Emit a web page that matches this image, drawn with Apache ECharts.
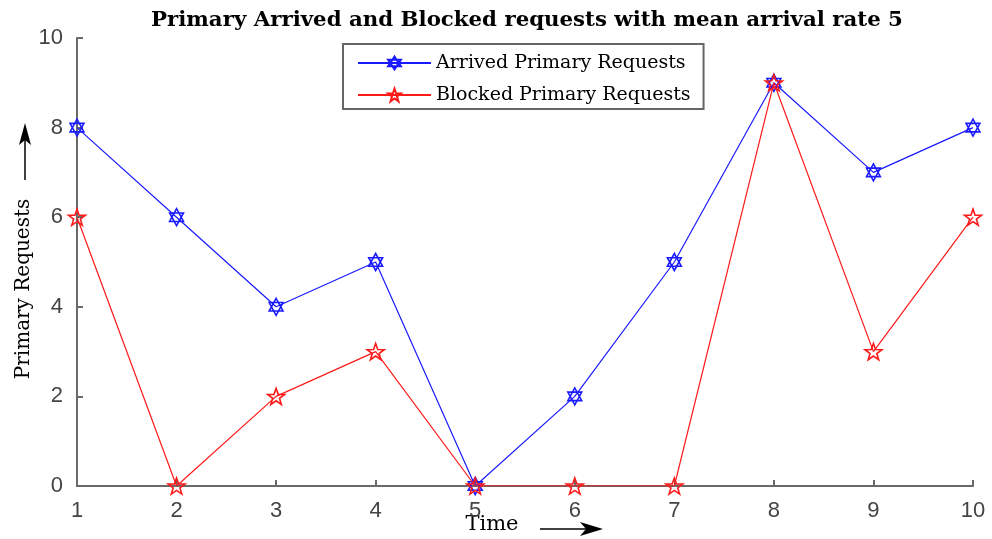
<!DOCTYPE html>
<html>
<head>
<meta charset="utf-8">
<script src="https://cdn.jsdelivr.net/npm/echarts@6/dist/echarts.min.js"></script>
<style>
  html, body { margin: 0; padding: 0; background: #fff; }
  #chart { width: 992px; height: 539px; }
</style>
</head>
<body>
<div id="chart"></div>
<script>
// Time steps and request counts per step
const timeSteps = [1, 2, 3, 4, 5, 6, 7, 8, 9, 10];
const arrivedRequests = [8, 6, 4, 5, 0, 2, 5, 9, 7, 8];
const blockedRequests = [6, 0, 2, 3, 0, 0, 0, 9, 3, 6];

const titleText = 'Primary Arrived and Blocked requests with mean arrival rate 5';
const arrivedName = 'Arrived Primary Requests';
const blockedName = 'Blocked Primary Requests';

// Six-pointed star (two overlapping triangles) and five-pointed star outlines
const hexagram = 'path://M50,0 L93.3,75 L6.7,75 Z M50,100 L93.3,25 L6.7,25 Z';
const pentagram = 'path://M50,0 L61.8,33.8 L97.6,34.5 L69,56.2 L79.4,90.5 L50,70 L20.6,90.5 L31,56.2 L2.4,34.5 L38.2,33.8 Z';

const toPairs = (ys) => timeSteps.map((t, i) => [t, ys[i]]);

const chart = echarts.init(document.getElementById('chart'), null, { renderer: 'canvas' });

const axisGray = '#6a6a6a';
const serif = '"DejaVu Serif", "Liberation Serif", serif';
const tickFont = '"Liberation Sans Narrow", "Arial Narrow", "Liberation Sans", sans-serif';

chart.setOption({
  animation: false,
  backgroundColor: '#ffffff',
  title: {
    text: titleText,
    left: 146,
    top: 5,
    textStyle: { fontFamily: serif, fontWeight: 'bold', fontSize: 21.3, color: '#000' }
  },
  grid: { left: 77, right: 19, top: 38, bottom: 53, containLabel: false },
  legend: {
    orient: 'vertical',
    left: 343,
    top: 44,
    padding: [8, 13, 3, 14],
    itemWidth: 73,
    itemHeight: 16,
    itemGap: 10,
    itemTextGap: 6,
    backgroundColor: '#fff',
    borderColor: '#666',
    borderWidth: 2,
    textStyle: { fontFamily: serif, fontSize: 19, lineHeight: 22, color: '#000' },
    data: [arrivedName, blockedName]
  },
  xAxis: {
    type: 'value',
    min: 1,
    max: 10,
    interval: 1,
    splitLine: { show: false },
    axisLine: { onZero: false, lineStyle: { color: axisGray, width: 2 } },
    axisTick: { inside: true, length: 6, lineStyle: { color: axisGray, width: 2 } },
    axisLabel: { margin: 14, fontFamily: tickFont, fontSize: 22, color: '#444' }
  },
  yAxis: {
    type: 'value',
    min: 0,
    max: 10,
    interval: 2,
    splitLine: { show: false },
    axisLine: { show: true, lineStyle: { color: axisGray, width: 2 } },
    axisTick: { show: true, inside: true, length: 6, lineStyle: { color: axisGray, width: 2 } },
    axisLabel: { margin: 14, fontFamily: tickFont, fontSize: 22, color: '#444' }
  },
  series: [
    {
      name: arrivedName,
      type: 'line',
      data: toPairs(arrivedRequests),
      symbol: hexagram,
      symbolSize: [16, 17],
      symbolKeepAspect: true,
      lineStyle: { color: '#1a1aff', width: 1.2 },
      itemStyle: { color: 'rgba(255,255,255,0)', borderColor: '#1a1aff', borderWidth: 1.6 },
      z: 2
    },
    {
      name: blockedName,
      type: 'line',
      data: toPairs(blockedRequests),
      symbol: pentagram,
      symbolSize: [17, 17],
      symbolKeepAspect: true,
      lineStyle: { color: '#ff1a1a', width: 1.2 },
      itemStyle: { color: 'rgba(255,255,255,0)', borderColor: '#ff1a1a', borderWidth: 1.6 },
      z: 3
    }
  ],
  graphic: [
    // y-axis name with upward arrow
    {
      type: 'text',
      x: 24, y: 289,
      rotation: Math.PI / 2,
      style: { text: 'Primary Requests', fontFamily: serif, fontSize: 20, fill: '#000', align: 'center', verticalAlign: 'middle' }
    },
    { type: 'line', shape: { x1: 25, y1: 180, x2: 25, y2: 140 }, style: { stroke: '#000', lineWidth: 1.5 } },
    { type: 'polygon', shape: { points: [[25, 123], [19, 145], [25, 140], [31, 145]] }, style: { fill: '#000' } },
    // x-axis name with rightward arrow
    {
      type: 'text',
      x: 492, y: 525,
      style: { text: 'Time', fontFamily: serif, fontSize: 21, fill: '#000', align: 'center', verticalAlign: 'middle' }
    },
    { type: 'line', shape: { x1: 540, y1: 529, x2: 588, y2: 529 }, style: { stroke: '#000', lineWidth: 1.5 } },
    { type: 'polygon', shape: { points: [[603, 529], [580, 522], [586, 529], [580, 536]] }, style: { fill: '#000' } }
  ]
});
</script>
</body>
</html>
